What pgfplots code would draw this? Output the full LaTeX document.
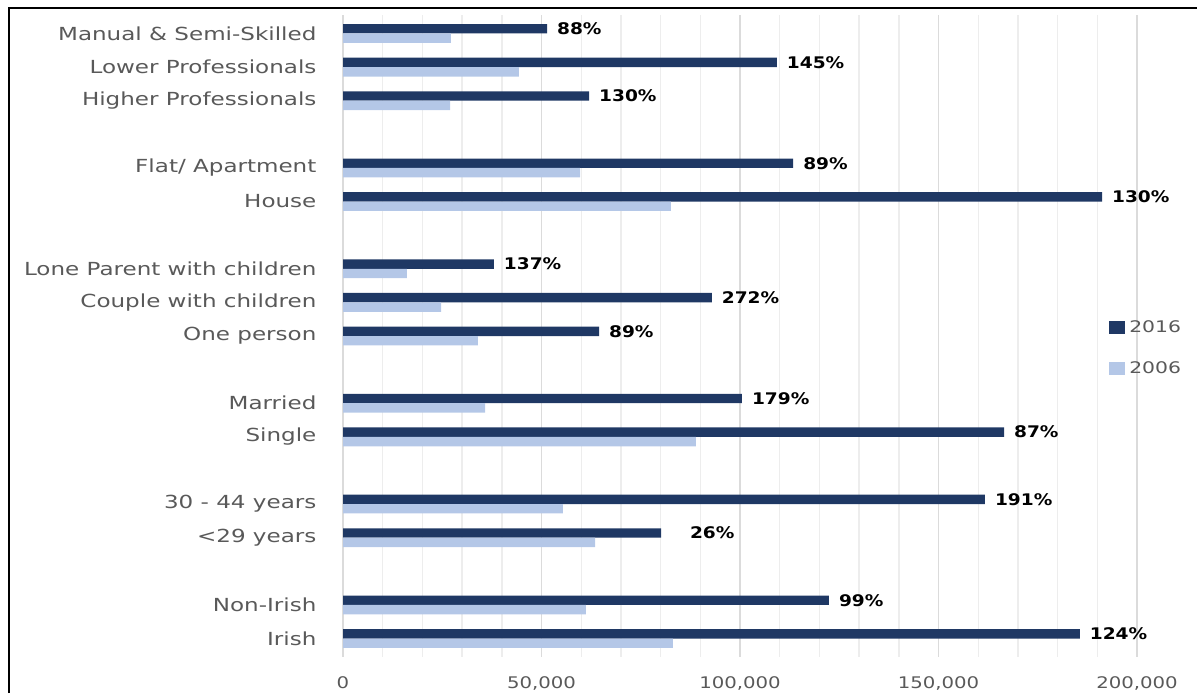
\documentclass[border=0pt]{standalone}
\usepackage{pgfplots}
\pgfplotsset{compat=1.18}
\usepackage{pgfplotstable}
\usepackage{fontspec}
\setmainfont{DejaVu Sans}
\newfontfamily\catfont[FakeStretch=1.28]{DejaVu Sans}
\newfontfamily\legfont[FakeStretch=1.27]{DejaVu Sans}
\newfontfamily\tickfont[FakeStretch=1.23]{DejaVu Sans}
\newfontfamily\pctfont[FakeStretch=1.16]{DejaVu Sans Bold}
\definecolor{dark}{HTML}{1F3864}
\definecolor{light}{HTML}{B4C7E7}
\definecolor{txt}{HTML}{595959}

\pgfplotstableread{
y v16 v06 lab
0 51400 27200 88\%
1 109300 44300 145\%
2 62000 27000 130\%
4 113400 59700 89\%
5 191200 82600 130\%
7 38000 16100 137\%
8 92900 24700 272\%
9 64500 34000 89\%
11 100500 35800 179\%
12 166500 88900 87\%
14 161700 55400 191\%
15 80100 63500 \hspace*{9.5pt}26\%
17 122400 61200 99\%
18 185600 83100 124\%
}\data

\begin{document}
\begin{tikzpicture}[x=1pt,y=1pt]
\useasboundingbox (0,0) rectangle (598.5,346.5);
\draw[black, line width=0.8pt] (4.5,0) -- (4.5,342.5) -- (598.5,342.5);
\begin{axis}[
  at={(171.5pt,18pt)}, anchor=south west,
  scale only axis, width=397pt, height=321pt,
  xbar,
  xmin=0, xmax=200000,
  ymin=-0.55, ymax=18.55, y dir=reverse,
  bar width=0.28,
  ytick={0,1,2,4,5,7,8,9,11,12,14,15,17,18},
  yticklabels={Manual \& Semi-Skilled, Lower Professionals, Higher Professionals, Flat/ Apartment, House, Lone Parent with children, Couple with children, One person, {Married\ }, Single, 30 - 44 years, {<29 years}, Non-Irish, Irish},
  xtick={0,50000,100000,150000,200000},
  minor x tick num=4,
  xmajorgrids, xminorgrids,
  major grid style={draw=black!14, line width=0.7pt},
  minor grid style={draw=black!7, line width=0.7pt},
  axis line style={draw=none},
  tick style={draw=none},
  scaled x ticks=false,
  /pgf/number format/.cd, fixed, 1000 sep={,}, assume math mode=true,
  /pgfplots/.cd,
  yticklabel style={font=\catfont\fontsize{9}{10}\selectfont, text=txt, xshift=-5.5pt},
  xticklabel style={font=\tickfont\fontsize{8}{9}\selectfont, text=txt, yshift=-6.5pt},
  legend style={at={(rel axis cs:0.957,0.481)}, anchor=west, draw=none, fill=none,
    font=\legfont\fontsize{8}{9}\selectfont, text=txt, row sep=9pt},
  legend cell align=left,
  legend image code/.code={\fill[#1] (0pt,-3.25pt) rectangle (8pt,3.25pt);},
]
\addplot[xbar, fill=dark, draw=none, bar shift=-0.14,
  nodes near coords, point meta=explicit symbolic,
  nodes near coords style={font=\pctfont\fontsize{8}{9}\selectfont, text=black, anchor=west, xshift=1.5pt}]
  table[x=v16, y=y, meta=lab]{\data};
\addlegendentry{2016}
\addplot[xbar, fill=light, draw=none, bar shift=0.14]
  table[x=v06, y=y]{\data};
\addlegendentry{2006}
\end{axis}
\end{tikzpicture}
\end{document}
